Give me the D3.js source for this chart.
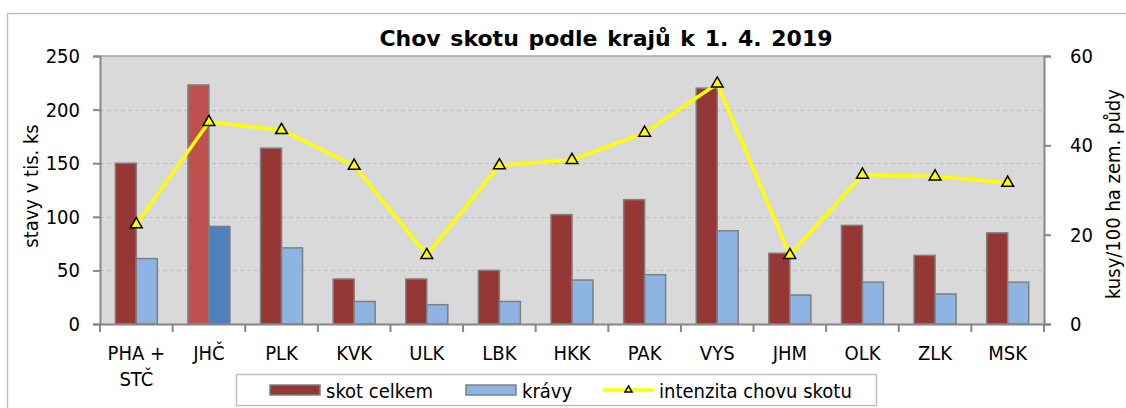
<!DOCTYPE html>
<html>
<head>
<meta charset="utf-8">
<script src="https://cdn.jsdelivr.net/npm/d3@7"></script>
<style>
  body { margin: 0; background: #fff; }
  svg text { font-family: "DejaVu Sans Condensed", "Liberation Sans", sans-serif; fill: #000; }
</style>
</head>
<body>
<svg id="chart" width="1126" height="408"></svg>
<script>
/** Data **/
var regions = ["PHA +\nSTČ", "JHČ", "PLK", "KVK", "ULK", "LBK", "HKK", "PAK", "VYS", "JHM", "OLK", "ZLK", "MSK"];
var skotCelkem = [150, 223, 164, 42, 42, 50, 102, 116, 220, 66, 92, 64, 85];
var kravy      = [61, 91, 71, 21, 18, 21, 41, 46, 87, 27, 39, 28, 39];
var intenzita  = [22.3, 45.2, 43.4, 35.4, 15.4, 35.5, 36.7, 42.8, 53.8, 15.4, 33.4, 33.0, 31.6];
var leftTicks  = [0, 50, 100, 150, 200, 250];
var rightTicks = [0, 20, 40, 60];
var seriesNames = ["skot celkem", "krávy", "intenzita chovu skotu"];
var highlight = "JHČ";

var plot_left = 100, plot_right = 1044, plot_top = 56, plot_bottom = 324;
var font_size = "20px";

var col_skot    = '#953735';
var col_skot_hl = '#C0504D';
var col_krav    = '#8EB4E3';
var col_krav_hl = '#4F81BD';
var col_line    = '#FFFF00';
var col_axis    = '#868686';

var svg = d3.select("#chart");

// chart frame
svg.append("rect")
    .attr("x", 7.5).attr("y", 13.5)
    .attr("width", 1130).attr("height", 420)
    .attr("fill", "#fff").attr("stroke", "#BFBFBF").attr("stroke-width", 1.5);

// plot background
svg.append("rect")
    .attr("x", plot_left).attr("y", plot_top)
    .attr("width", plot_right - plot_left).attr("height", plot_bottom - plot_top)
    .attr("fill", "#D9D9D9");

var x0 = d3.scaleBand()
    .domain(regions)
    .range([plot_left, plot_right])
    .padding(0);

var x1 = d3.scaleBand()
    .domain(["skot", "krav"])
    .range([0, x0.bandwidth()])
    .paddingInner(0)
    .paddingOuter(0.73);

var yL = d3.scaleLinear().domain([0, 250]).range([plot_bottom, plot_top]);
var yR = d3.scaleLinear().domain([0, 60]).range([plot_bottom, plot_top]);

// gridlines
svg.append("g").selectAll("line")
    .data(leftTicks.filter(function(d) { return d > 0 && d < 250; }))
    .enter().append("line")
    .attr("x1", plot_left).attr("x2", plot_right)
    .attr("y1", function(d) { return Math.round(yL(d)) + 0.5; })
    .attr("y2", function(d) { return Math.round(yL(d)) + 0.5; })
    .attr("stroke", "#BFBFBF").attr("stroke-width", 1.2)
    .attr("stroke-dasharray", "4,3");

// top border of plot
svg.append("line")
    .attr("x1", plot_left).attr("x2", plot_right)
    .attr("y1", plot_top).attr("y2", plot_top)
    .attr("stroke", "#A6A6A6").attr("stroke-width", 1.5);

// bars
var groups = svg.append("g").selectAll("g")
    .data(regions)
    .enter().append("g")
    .attr("transform", function(d) { return "translate(" + x0(d) + ",0)"; });

groups.append("rect")
    .attr("x", x1("skot"))
    .attr("width", x1.bandwidth())
    .attr("y", function(d, i) { return yL(skotCelkem[i]); })
    .attr("height", function(d, i) { return plot_bottom - yL(skotCelkem[i]); })
    .attr("fill", function(d) { return d === highlight ? col_skot_hl : col_skot; })
    .attr("stroke", "#7F7F7F").attr("stroke-width", 1.5);

groups.append("rect")
    .attr("x", x1("krav"))
    .attr("width", x1.bandwidth())
    .attr("y", function(d, i) { return yL(kravy[i]); })
    .attr("height", function(d, i) { return plot_bottom - yL(kravy[i]); })
    .attr("fill", function(d) { return d === highlight ? col_krav_hl : col_krav; })
    .attr("stroke", "#7F7F7F").attr("stroke-width", 1.5);

// axes
var axisL = svg.append("g")
    .attr("transform", "translate(" + plot_left + ",0)")
    .call(d3.axisLeft(yL).tickValues(leftTicks).tickSize(7).tickPadding(13));

var axisR = svg.append("g")
    .attr("transform", "translate(" + plot_right + ",0)")
    .call(d3.axisRight(yR).tickValues(rightTicks).tickSize(7).tickPadding(19));

var axisB = svg.append("g")
    .attr("transform", "translate(0," + plot_bottom + ")")
    .call(d3.axisBottom(x0).tickSize(0).tickFormat(""));

[axisL, axisR, axisB].forEach(function(a) {
    a.select(".domain").attr("stroke", col_axis).attr("stroke-width", 2);
    a.selectAll(".tick line").attr("stroke", col_axis).attr("stroke-width", 2);
    a.selectAll(".tick text").style("font-size", font_size).attr("fill", "#000");
});

// category boundary ticks
svg.append("g").selectAll("line")
    .data(regions.concat(["_end"]))
    .enter().append("line")
    .attr("x1", function(d, i) { return i < regions.length ? x0(d) : plot_right; })
    .attr("x2", function(d, i) { return i < regions.length ? x0(d) : plot_right; })
    .attr("y1", plot_bottom).attr("y2", plot_bottom + 8)
    .attr("stroke", col_axis).attr("stroke-width", 2);

// category labels (multi-line)
svg.append("g").selectAll("text")
    .data(regions)
    .enter().append("text")
    .attr("text-anchor", "middle")
    .style("font-size", font_size)
    .each(function(d) {
        var lines = d.split("\n");
        var t = d3.select(this);
        lines.forEach(function(l, k) {
            t.append("tspan")
                .attr("x", x0(d) + x0.bandwidth() / 2)
                .attr("y", 360 + k * 26)
                .text(l);
        });
    });

// line series
var cx = function(i) { return x0(regions[i]) + x0.bandwidth() / 2; };

var line = d3.line()
    .x(function(d, i) { return cx(i); })
    .y(function(d) { return yR(d); });

svg.append("path")
    .datum(intenzita)
    .attr("d", line)
    .attr("fill", "none")
    .attr("stroke", col_line)
    .attr("stroke-width", 3.5);

var tri = d3.symbol().type(d3.symbolTriangle).size(60);

svg.append("g").selectAll("path")
    .data(intenzita)
    .enter().append("path")
    .attr("d", tri)
    .attr("transform", function(d, i) { return "translate(" + cx(i) + "," + yR(d) + ")"; })
    .attr("fill", col_line)
    .attr("stroke", "#000").attr("stroke-width", 1.5);

// title
svg.append("text")
    .attr("x", 606).attr("y", 46)
    .attr("text-anchor", "middle")
    .style("font-family", "'DejaVu Sans', sans-serif")
    .style("font-weight", "bold")
    .style("font-size", "22px")
    .style("word-spacing", "2px")
    .text("Chov skotu podle krajů k 1. 4. 2019");

// axis titles
svg.append("text")
    .attr("transform", "translate(38,186) rotate(-90)")
    .attr("text-anchor", "middle")
    .style("font-size", font_size)
    .text("stavy v tis. ks");

svg.append("text")
    .attr("transform", "translate(1120,194) rotate(-90)")
    .attr("text-anchor", "middle")
    .style("font-size", font_size)
    .text("kusy/100 ha zem. půdy");

// legend
var legend = svg.append("g");
legend.append("rect")
    .attr("x", 236.5).attr("y", 374.5)
    .attr("width", 640).attr("height", 31)
    .attr("fill", "#fff").attr("stroke", "#BFBFBF").attr("stroke-width", 1.5);

var legendItems = [
    { x: 270, type: "bar", fill: col_skot },
    { x: 466, type: "bar", fill: col_krav },
    { x: 603, type: "line", fill: col_line }
];

legendItems.forEach(function(it, k) {
    if (it.type === "bar") {
        legend.append("rect")
            .attr("x", it.x).attr("y", 385)
            .attr("width", 50).attr("height", 10)
            .attr("fill", it.fill)
            .attr("stroke", "#7F7F7F").attr("stroke-width", 1.5);
    } else {
        legend.append("line")
            .attr("x1", it.x).attr("x2", it.x + 51)
            .attr("y1", 390).attr("y2", 390)
            .attr("stroke", col_line).attr("stroke-width", 3.5);
        legend.append("path")
            .attr("d", d3.symbol().type(d3.symbolTriangle).size(22))
            .attr("transform", "translate(" + (it.x + 25.5) + ",390)")
            .attr("fill", col_line)
            .attr("stroke", "#000").attr("stroke-width", 1.5);
    }
    legend.append("text")
        .attr("x", it.x + 56).attr("y", 398)
        .style("font-size", font_size)
        .text(seriesNames[k]);
});
</script>
</body>
</html>
